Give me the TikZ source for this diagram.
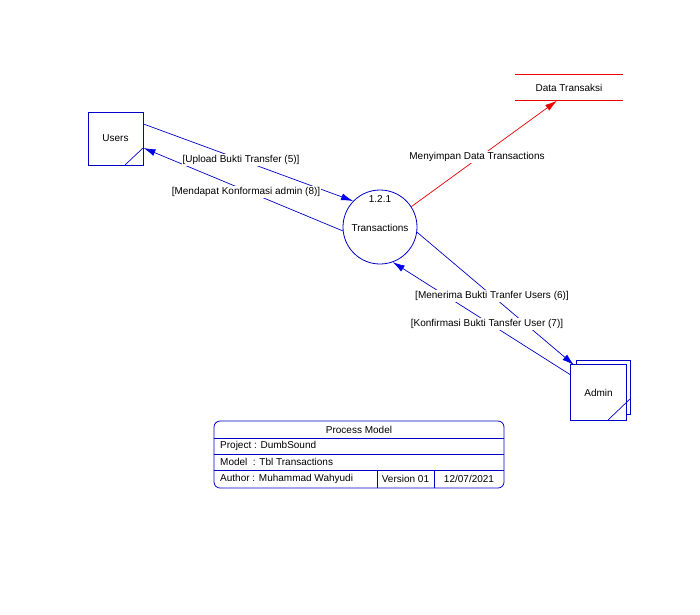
\documentclass[tikz,border=0pt]{standalone}
\usepackage{fontspec}
\setmainfont{Liberation Sans}
\usetikzlibrary{arrows.meta}
\definecolor{dfdblue}{RGB}{0,0,200}
\definecolor{tipblue}{RGB}{0,0,240}
\definecolor{dfdred}{RGB}{235,0,0}
\begin{document}
\begin{tikzpicture}[x=1pt,y=-1pt,
  every node/.style={font=\fontsize{10}{12}\selectfont, inner sep=0pt},
  entity/.style={draw=dfdblue, fill=white, line width=1pt},
  proc/.style={draw=dfdblue, circle, minimum size=74pt, line width=0.8pt},
  flow/.style={draw=dfdblue, line width=0.7pt, -{Latex[length=12pt,width=7pt,color=tipblue]}},
  storeflow/.style={draw=dfdred, line width=0.7pt, -{Latex[length=12pt,width=7pt,color=dfdred]}},
  flowlabel/.style={fill=white, inner sep=1pt},
  legendrow/.style={anchor=west}
]
\useasboundingbox (0,0) rectangle (700,614);

% external entity: Users
\node[entity, minimum width=55pt, minimum height=53pt] (U) at (115.5,138.5) {Users};
\draw[dfdblue, line width=0.7pt] (125,165) -- (143,148);

% process 1.2.1
\node[proc] (T) at (380,227) {};
\node (Tid) at (380,199) {1.2.1};
\node (Tname) at (380,228) {Transactions};

% data store: two red rules above and below the name
\node[minimum width=108pt, minimum height=26pt] (D) at (569,87.5) {Data Transaksi};
\draw[dfdred, line width=1pt] (D.north west) -- (D.north east);
\draw[dfdred, line width=1pt] (D.south west) -- (D.south east);

% external entity: Admin (duplicated)
\node[entity, minimum width=54pt, minimum height=54pt] (A2) at (603.5,387.5) {};
\node[entity, minimum width=56pt, minimum height=56pt] (A) at (598.5,392.5) {Admin};
\draw[dfdblue, line width=0.7pt] (608,420) -- (630,399);

% data flows
\draw[flow] ([yshift=14.5pt]U.east) -- (T.136);
\draw[flow] (T.186) -- ([yshift=-9.5pt]U.east);
\draw[storeflow] (T.33) -- ([xshift=-12pt]D.south);
\draw[flow] (T.-8) -- ([xshift=4pt,yshift=-1pt]A.north west);
\draw[flow] ([yshift=18pt]A.west) -- (T.-70);

% flow labels
\node[flowlabel] (l1) at (241,160) {[Upload Bukti Transfer (5)]};
\node[flowlabel] (l2) at (246,192) {[Mendapat Konformasi admin (8)]};
\node[flowlabel] (l3) at (477,157) {Menyimpan Data Transactions};
\node[flowlabel] (l4) at (492,296) {[Menerima Bukti Tranfer Users (6)]};
\node[flowlabel] (l5) at (487,324) {[Konfirmasi Bukti Tansfer User (7)]};

% title block
\node[draw=dfdblue, rounded corners=6pt, line width=0.8pt, minimum width=290pt, minimum height=67pt] (L) at (359,454.5) {};
\draw[dfdblue, line width=0.7pt] (214,438) -- (504,438);
\draw[dfdblue, line width=0.7pt] (214,454) -- (504,454);
\draw[dfdblue, line width=0.7pt] (214,470) -- (504,470);
\draw[dfdblue, line width=0.7pt] (377,470) -- (377,488);
\draw[dfdblue, line width=0.7pt] (434,470) -- (434,488);
\node (Lt) at (359,430) {Process Model};
\node[legendrow] (Lp) at (220,446) {Project : DumbSound};
\node[legendrow] (Lm) at (220,462) {Model \ : Tbl Transactions};
\node[legendrow] (La) at (220,479) {Author : Muhammad Wahyudi};
\node (Lv) at (405.5,479) {Version 01};
\node (Ld) at (469,479) {12/07/2021};
\end{tikzpicture}
\end{document}
